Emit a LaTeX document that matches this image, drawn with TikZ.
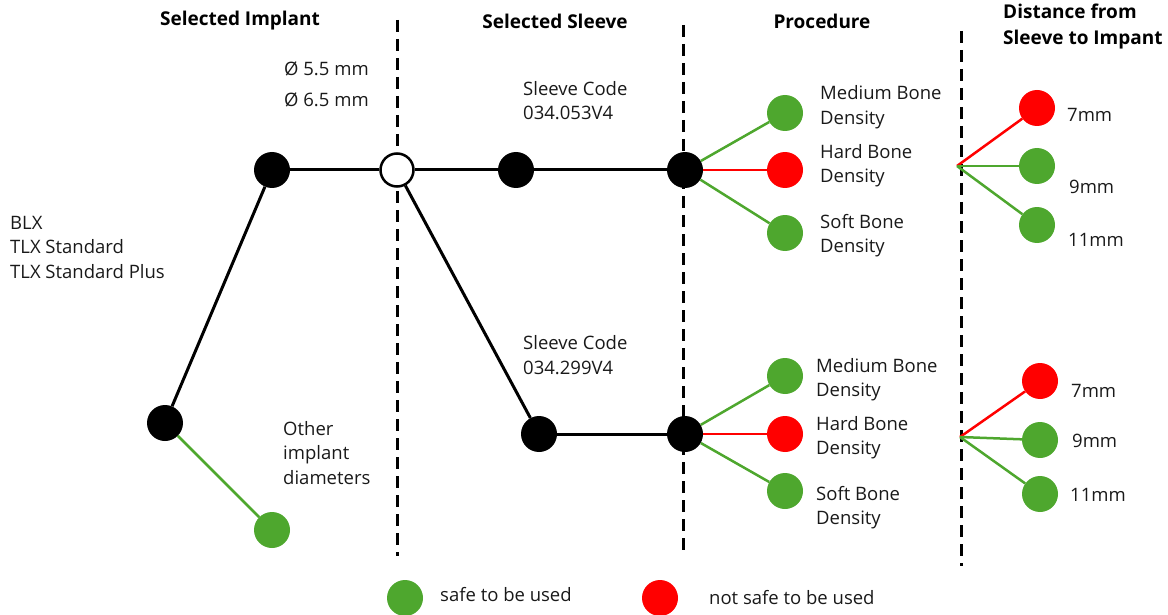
\documentclass[tikz,border=0pt]{standalone}
\usepackage{fontspec}
\setmainfont{Open Sans}
\usetikzlibrary{positioning}
\definecolor{okgreen}{HTML}{4EA72E}
\definecolor{nogood}{HTML}{FF0000}

\begin{document}
\begin{tikzpicture}[
  x=1pt, y=-1pt,
  dot/.style={circle, minimum size=36pt, inner sep=0pt, fill=black},
  safe/.style={dot, fill=okgreen},
  unsafe/.style={dot, fill=nogood},
  hollow/.style={circle, minimum size=33pt, inner sep=0pt, draw=black,
    line width=2.5pt, fill=white},
  lbl/.style={anchor=west, align=left, inner sep=0pt,
    font=\fontsize{18.5}{24.5}\selectfont, text=black!90},
  head/.style={inner sep=0pt, font=\fontsize{19}{26}\selectfont\bfseries},
  sep/.style={line width=3pt, dash pattern=on 12pt off 7pt},
  link/.style={line width=3pt},
  glink/.style={okgreen, line width=2.5pt},
  rlink/.style={nogood, line width=2.5pt},
  ]
  \useasboundingbox (0,0) rectangle (1168,615);

  % column headings
  \node[head] (hImpl) at (240,21) {Selected Implant};
  \node[head] (hSleeve) at (555,21) {Selected Sleeve};
  \node[head] (hProc) at (822,21) {Procedure};
  \node[head, anchor=west, align=left] (hDist) at (1003,27)
    {Distance from\\Sleeve to Impant};

  % dashed column separators
  \draw[sep] (397,20) -- (397,556);
  \draw[sep] (683,25) -- (683,550);
  \draw[sep] (961,31) -- (961,566);

  % implant branch
  \node[dot] (base) at (165,423) {};
  \node[dot] (impl) at (272,170) {};
  \node[safe] (other) at (272,530) {};
  \node[hollow] (split) at (397,170) {};

  % sleeves and procedure junctions
  \node[dot] (slvA) at (516,170) {};
  \node[dot] (slvB) at (539,434) {};
  \node[dot] (procA) at (685,170) {};
  \node[dot] (procB) at (685,434) {};

  % bone density outcomes
  \node[safe] (medA) at (785,113) {};
  \node[unsafe] (hardA) at (785,170) {};
  \node[safe] (softA) at (785,233) {};
  \node[safe] (medB) at (785,376) {};
  \node[unsafe] (hardB) at (785,434) {};
  \node[safe] (softB) at (785,491) {};

  % distance outcomes
  \coordinate (distA) at (957,166);
  \coordinate (distB) at (960,437);
  \node[unsafe] (sevA) at (1037,108) {};
  \node[safe] (nineA) at (1037,166) {};
  \node[safe] (elevA) at (1037,225) {};
  \node[unsafe] (sevB) at (1040,381) {};
  \node[safe] (nineB) at (1040,440) {};
  \node[safe] (elevB) at (1040,494) {};

  % connectors
  \draw[link] (base) -- (impl);
  \draw[glink] (base) -- (other);
  \draw[link] (impl) -- (split);
  \draw[link] (split) -- (slvA);
  \draw[link] (split) -- (slvB);
  \draw[link] (slvA) -- (procA);
  \draw[link] (slvB) -- (procB);
  \foreach \p in {A,B}{
    \draw[glink] (proc\p) -- (med\p);
    \draw[rlink] (proc\p) -- (hard\p);
    \draw[glink] (proc\p) -- (soft\p);
    \draw[rlink] (dist\p) -- (sev\p);
    \draw[glink] (dist\p) -- (nine\p);
    \draw[glink] (dist\p) -- (elev\p);
  }

  % labels
  \node[lbl] (tModels) at (10,247) {BLX\\TLX Standard\\TLX Standard Plus};
  \node[lbl, font=\fontsize{18.5}{31}\selectfont] (tDiam) at (284,84.5)
    {Ø 5.5 mm\\Ø 6.5 mm};
  \node[lbl] (tOther) at (283,453) {Other\\implant\\diameters};
  \node[lbl] (tCodeA) at (523,100.5) {Sleeve Code\\034.053V4};
  \node[lbl] (tCodeB) at (523,355) {Sleeve Code\\034.299V4};
  \node[lbl] (tMedA) at (820,107) {Medium Bone\\Density};
  \node[lbl] (tHardA) at (820,165.5) {Hard Bone\\Density};
  \node[lbl] (tSoftA) at (820,235.5) {Soft Bone\\Density};
  \node[lbl] (tMedB) at (816,379.5) {Medium Bone\\Density};
  \node[lbl] (tHardB) at (816,437.5) {Hard Bone\\Density};
  \node[lbl] (tSoftB) at (816,507.5) {Soft Bone\\Density};
  \node[lbl] (t7A) at (1067,115) {7mm};
  \node[lbl] (t9A) at (1069,187) {9mm};
  \node[lbl] (t11A) at (1068,240) {11mm};
  \node[lbl] (t7B) at (1071,391) {7mm};
  \node[lbl] (t9B) at (1072,441) {9mm};
  \node[lbl] (t11B) at (1070,495) {11mm};

  % legend
  \node[safe] (keySafe) at (405,598) {};
  \node[lbl] (tSafe) at (440,595) {safe to be used};
  \node[unsafe] (keyUnsafe) at (660,598) {};
  \node[lbl] (tUnsafe) at (709,598) {not safe to be used};
\end{tikzpicture}
\end{document}
